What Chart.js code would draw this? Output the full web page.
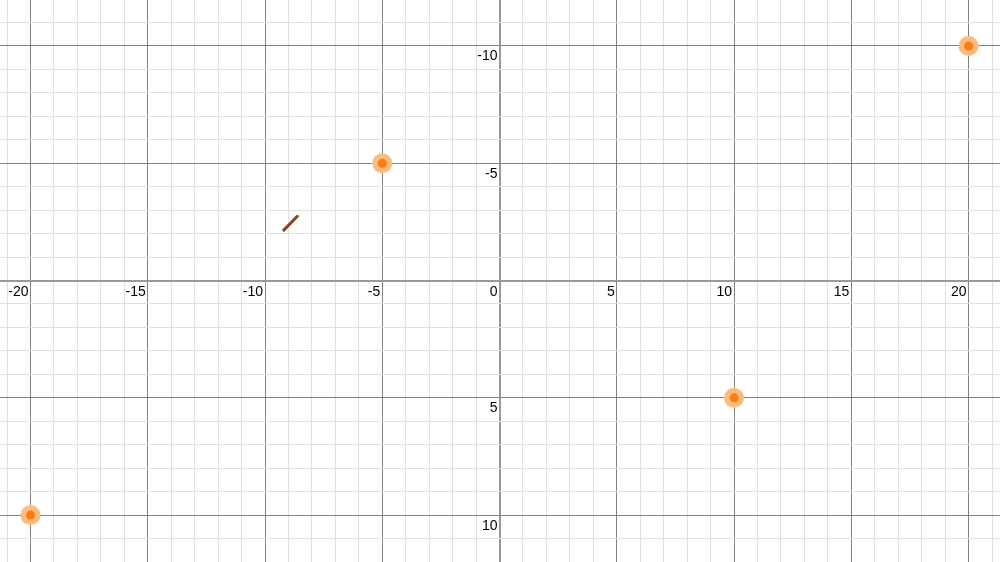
<!DOCTYPE html>
<html>
<head>
<meta charset="utf-8">
<script src="https://cdn.jsdelivr.net/npm/chart.js@4/dist/chart.umd.min.js"></script>
<style>
  html, body { margin: 0; padding: 0; background: #ffffff; }
  #c { display: block; }
</style>
</head>
<body>
<canvas id="c" width="1000" height="562"></canvas>
<script>
// ---- data ----
const pointX = [-20, -5, 10, 20];
const pointY = [10, -5, 5, -10];
const segmentX = [-9.2, -8.62];
const segmentY = [-2.15, -2.74];
const xTickLabels = [-20, -15, -10, -5, 0, 5, 10, 15, 20];
const yTickLabels = [-10, -5, 5, 10];
const xRange = [-21.30, 21.34];
const yRange = [-11.96, 12.0];

const points = pointX.map((x, i) => ({ x: x, y: pointY[i] }));
const segment = segmentX.map((x, i) => ({ x: x, y: segmentY[i] }));

function gridColor(ctx) {
  const v = ctx.tick ? ctx.tick.value : NaN;
  if (!Number.isInteger(v)) return 'rgba(0,0,0,0)';
  if (v === 0) return '#999999';
  if (v % 5 === 0) return '#808080';
  return '#e0e0e0';
}
function gridWidth(ctx) {
  const v = ctx.tick ? ctx.tick.value : NaN;
  return v === 0 ? 2 : 1;
}
function integerTicks(scale) {
  const t = [];
  for (let v = Math.ceil(scale.min); v <= Math.floor(scale.max); v++) t.push({ value: v });
  scale.ticks = t;
}

const labelPlugin = {
  id: 'axisLabels',
  afterDraw(chart) {
    const c = chart.ctx;
    const xs = chart.scales.x, ys = chart.scales.y;
    const x0 = xs.getPixelForValue(0), y0 = ys.getPixelForValue(0);
    c.save();
    c.font = '14px "Liberation Sans", Arial, sans-serif';
    c.fillStyle = '#000000';
    c.textAlign = 'right';
    c.textBaseline = 'alphabetic';
    xTickLabels.forEach(v => {
      c.fillText(String(v), xs.getPixelForValue(v) - 2, y0 + 15);
    });
    yTickLabels.forEach(v => {
      c.fillText(String(v), x0 - 2, ys.getPixelForValue(v) + 14.5);
    });
    c.restore();
  }
};

new Chart(document.getElementById('c'), {
  type: 'scatter',
  data: {
    datasets: [
      {
        data: points,
        order: 0,
        pointRadius: 4.5,
        pointBackgroundColor: '#f97c14',
        pointBorderWidth: 0,
        pointBorderColor: 'rgba(0,0,0,0)'
      },
      {
        data: points,
        order: 1,
        pointRadius: 10,
        pointBackgroundColor: '#fdbb7d',
        pointBorderWidth: 0,
        pointBorderColor: 'rgba(0,0,0,0)'
      },
      {
        type: 'line',
        order: 2,
        data: segment,
        borderColor: '#8e4122',
        borderWidth: 3,
        borderCapStyle: 'round',
        pointRadius: 0,
        fill: false
      }
    ]
  },
  options: {
    responsive: false,
    animation: false,
    events: [],
    layout: { padding: 0, autoPadding: false },
    plugins: { legend: { display: false }, tooltip: { enabled: false } },
    scales: {
      x: {
        type: 'linear',
        min: xRange[0],
        max: xRange[1],
        afterBuildTicks: integerTicks,
        ticks: { display: false },
        border: { display: false },
        grid: { drawTicks: false, color: gridColor, lineWidth: gridWidth }
      },
      y: {
        type: 'linear',
        reverse: true,
        min: yRange[0],
        max: yRange[1],
        afterBuildTicks: integerTicks,
        ticks: { display: false },
        border: { display: false },
        grid: { drawTicks: false, color: gridColor, lineWidth: gridWidth }
      }
    }
  },
  plugins: [labelPlugin]
});
</script>
</body>
</html>
